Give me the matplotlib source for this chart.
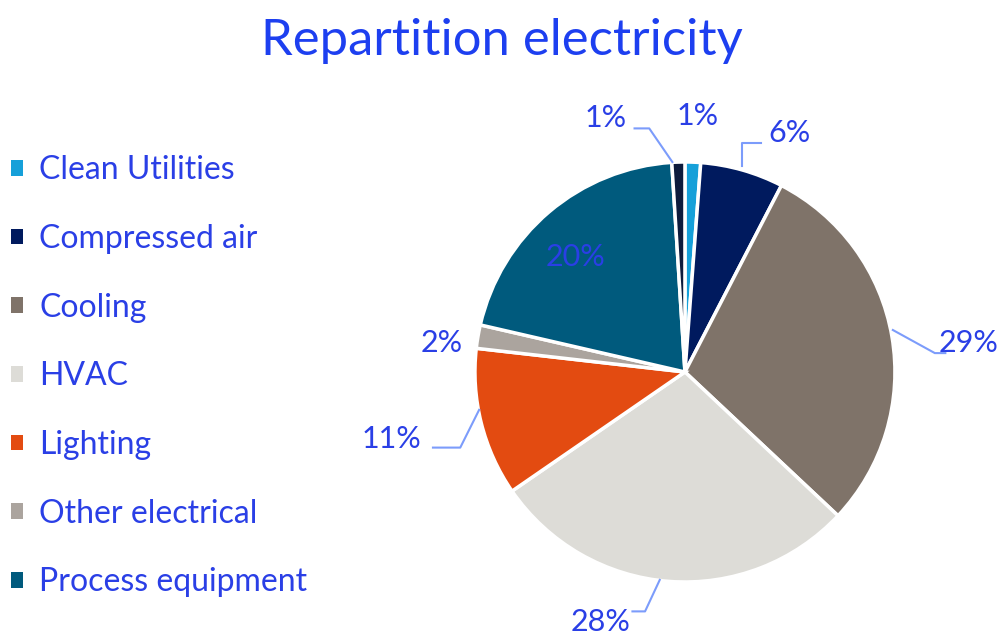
import numpy as np
import matplotlib
matplotlib.use("Agg")
import matplotlib.pyplot as plt

# data
categories = ["Clean Utilities", "Compressed air", "Cooling", "HVAC",
              "Lighting", "Other electrical", "Process equipment", ""]
shares = [1.2, 6.4, 29.4, 28.4, 11.4, 1.8, 20.4, 1.0]
colors = ["#16a0d9", "#001a5e", "#7f7369", "#dddcd7",
          "#e34b11", "#aba49e", "#005a7d", "#0d1b3c"]

# label placement (data units, pie radius = 1) and leader line elbows
label_xy = [(0.06, 1.22), (0.50, 1.14), (1.35, 0.14), (-0.40, -1.19),
            (-1.40, -0.32), (-1.16, 0.14), (-0.52, 0.55), (-0.38, 1.21)]
leader = [None,
          [(0.27, 0.98), (0.27, 1.09), (0.36, 1.09)],
          [(0.99, 0.20), (1.19, 0.09), (1.24, 0.09)],
          [(-0.12, -0.99), (-0.19, -1.14), (-0.25, -1.14)],
          [(-0.98, -0.18), (-1.07, -0.36), (-1.20, -0.36)],
          None, None,
          [(-0.06, 1.00), (-0.17, 1.16), (-0.24, 1.16)]]

txt_blue = "#2a3fe6"
line_blue = "#7c9cfb"
plt.rcParams['font.family'] = ['Lato', 'DejaVu Sans']

fig = plt.figure(figsize=(10.03, 6.34), dpi=100)
ax = fig.add_axes([0.3838, 0.00315, 0.5982, 0.8202])

wedges, _ = ax.pie(shares, colors=colors, startangle=90, counterclock=False,
                   radius=1.0, wedgeprops=dict(edgecolor="white", linewidth=2.5))
ax.set_xlim(-1.4286, 1.4286)
ax.set_ylim(-1.238, 1.238)
ax.set_aspect("equal")
ax.axis("off")

for i, s in enumerate(shares):
    pts = leader[i]
    if pts is not None:
        xs, ys = zip(*pts)
        ax.plot(xs, ys, color=line_blue, lw=1.5, clip_on=False)
    x, y = label_xy[i]
    ax.text(x, y, "%d%%" % round(s), color=txt_blue, fontsize=22,
            ha="center", va="center", clip_on=False)

fig.text(0.5, 0.935, "Repartition electricity", color="#1d3ff0",
         fontsize=36.5, ha="center", va="center")

leg = fig.legend(wedges[:7], categories[:7], loc="upper left",
                 bbox_to_anchor=(0.011, 0.755), frameon=False,
                 borderpad=0, borderaxespad=0,
                 handlelength=0.38, handleheight=0.38, handletextpad=0.5,
                 labelspacing=1.21, fontsize=23, labelcolor=txt_blue)
for h in leg.legend_handles:
    h.set_edgecolor("none")

fig.savefig("out.png", dpi=100)
